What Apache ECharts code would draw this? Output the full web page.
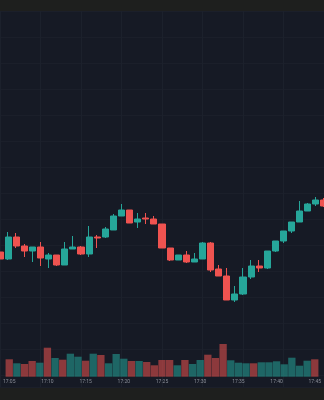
<!DOCTYPE html>
<html><head><meta charset="utf-8">
<script src="https://cdn.jsdelivr.net/npm/echarts@6/dist/echarts.min.js"></script>
<style>html,body{margin:0;padding:0;background:#1e1f1e;}#c{width:324px;height:400px;}</style>
</head><body><div id="c"></div>
<script>
const times = ["17:05","17:06","17:07","17:08","17:09","17:10","17:11","17:12","17:13","17:14","17:15","17:16","17:17","17:18","17:19","17:20","17:21","17:22","17:23","17:24","17:25","17:26","17:27","17:28","17:29","17:30","17:31","17:32","17:33","17:34","17:35","17:36","17:37","17:38","17:39","17:40","17:41","17:42","17:43","17:44","17:45"];
const open  = [107.40,107.05,108.15,107.70,107.45,107.65,107.05,107.25,106.75,107.55,107.65,107.30,108.15,108.15,108.50,109.20,109.50,108.90,109.10,109.05,108.80,107.60,107.00,107.25,106.90,107.05,107.85,106.55,106.20,105.00,105.30,106.15,106.70,106.60,107.45,107.95,108.45,108.90,109.45,109.80,110.00];
const close = [107.05,108.15,107.70,107.45,107.65,107.10,107.25,106.75,107.55,107.65,107.30,108.15,108.10,108.55,109.20,109.50,108.85,109.05,109.05,108.80,107.60,107.00,107.25,106.90,107.05,107.85,106.50,106.20,105.00,105.30,106.15,106.70,106.60,107.45,107.95,108.45,108.90,109.45,109.80,110.00,109.70];
const low   = [106.95,107.00,107.60,107.15,106.90,106.70,106.60,106.70,106.75,107.55,107.25,107.15,107.60,108.10,108.50,109.20,108.85,108.60,108.80,108.80,107.60,106.95,107.00,106.85,106.90,107.05,106.40,106.20,105.00,104.90,105.25,106.05,106.40,106.55,107.40,107.85,108.35,108.90,109.45,109.70,109.65];
const high  = [107.50,108.40,108.35,107.80,107.65,107.90,107.35,107.25,107.90,108.20,107.70,108.70,108.25,108.65,109.30,109.80,109.50,109.35,109.35,109.20,108.80,107.60,107.25,107.45,107.35,107.90,107.90,106.75,106.60,105.70,106.60,107.00,107.00,107.45,107.95,108.45,108.90,109.95,109.85,110.15,110.10];
const volume = [1740,1340,1270,1570,1400,2900,1870,1700,2300,2000,1600,2300,2170,1340,2270,1800,1570,1570,1470,1140,1670,1670,1140,1670,1270,1670,2200,1870,3270,1640,1400,1340,1340,1440,1440,1540,1240,1900,1100,1600,1740];

const UP = '#26a69a', DOWN = '#ef5350';
const UPV = 'rgba(38,166,154,0.55)', DOWNV = 'rgba(239,83,80,0.55)';
const kdata = times.map((t,i)=>[open[i],close[i],low[i],high[i]]);
const vdata = volume.map((v,i)=>({value:v,itemStyle:{color: close[i]>=open[i]?UPV:DOWNV}}));
const every5 = (i)=> i%5===0;
const chart = echarts.init(document.getElementById('c'));
chart.setOption({
  animation:false,
  backgroundColor:'#1e1f1e',
  grid:[
    {left:-2,width:328,top:11,height:376,show:true,backgroundColor:'#161a25',borderWidth:0},
    {left:-2,width:328,top:340,height:36.7,show:false}
  ],
  xAxis:[
    {type:'category',gridIndex:0,data:times,boundaryGap:false,
     axisLine:{show:false},axisTick:{show:false},axisLabel:{show:false},
     splitLine:{show:true,interval:(i)=>every5(i),lineStyle:{color:'#1c212c',width:1}}},
    {type:'category',gridIndex:1,data:times,boundaryGap:false,
     axisLine:{show:false},axisTick:{show:false},
     axisLabel:{show:true,interval:(i)=>every5(i),color:'#8a8e98',fontSize:5,margin:3,fontFamily:'Roboto'},
     splitLine:{show:false}}
  ],
  yAxis:[
    {type:'value',gridIndex:0,min:100.65,max:119.45,show:false,splitLine:{show:false}},
    {type:'value',gridIndex:1,min:0,max:3670,show:false},
    {type:'value',gridIndex:0,min:0,max:376,interval:26,show:true,inverse:true,
     axisLine:{show:false},axisTick:{show:false},axisLabel:{show:false},
     splitLine:{show:true,lineStyle:{color:'#1b1f2a',width:1}}}
  ],
  series:[
    {type:'bar',xAxisIndex:1,yAxisIndex:1,data:vdata,barWidth:7.3},
    {type:'candlestick',xAxisIndex:0,yAxisIndex:0,data:kdata,barWidth:6.6,
     itemStyle:{color:UP,color0:DOWN,borderColor:UP,borderColor0:DOWN,borderWidth:1}}
  ]
});
</script></body></html>
